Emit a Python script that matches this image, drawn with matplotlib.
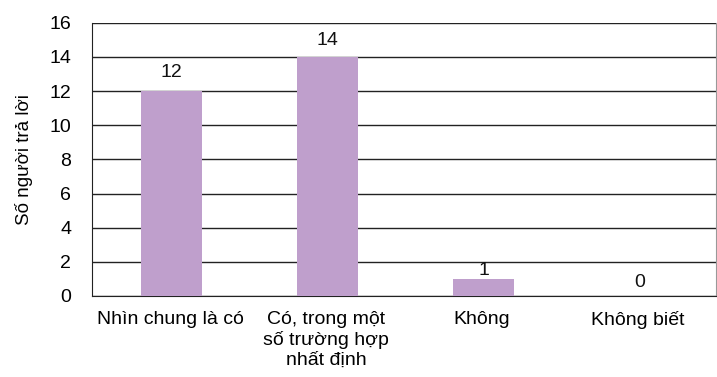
import matplotlib.pyplot as plt
import numpy as np

plt.rcParams['font.family'] = ['Liberation Sans', 'DejaVu Sans']

categories = ['Nhìn chung là có', 'Có, trong một\nsố trường hợp\nnhất định', 'Không', 'Không biết']
values = [12, 14, 1, 0]
# vertical offset of each value label above its bar, in points
label_offsets = [13.5, 12, 6, 10]

fig = plt.figure(figsize=(7.17, 3.77), dpi=100)
ax = fig.add_axes([92 / 717, 1 - 296 / 377, (716 - 92) / 717, (296 - 22.7) / 377])

x = np.arange(len(categories))
ax.bar(x + 0.01, values, width=0.39, color='#bf9fcc', zorder=3)

for xi, v, off in zip(x, values, label_offsets):
    ax.annotate(str(v), (xi + 0.01, v), xytext=(0, off), textcoords='offset points',
                ha='center', va='center', fontsize=14, color='#111111', zorder=4)

ax.set_xlim(-0.5, len(categories) - 0.5)
ax.set_ylim(0, 16)
ax.set_yticks(range(0, 17, 2))
ax.set_xticks(x)
ax.set_xticklabels(categories, fontsize=14, linespacing=1.2)
ax.tick_params(axis='y', labelsize=14, length=0, pad=15)
ax.tick_params(axis='x', length=0, pad=11)
ax.yaxis.grid(True, color='#222222', linewidth=1, zorder=1)
ax.set_axisbelow(True)

for side in ['left', 'bottom']:
    ax.spines[side].set_color('#222222')
ax.spines['top'].set_visible(False)
ax.spines['right'].set_color('#999999')

ax.set_ylabel('Số người trả lời', fontsize=13.5, labelpad=12)

fig.savefig('out.png', dpi=100)
